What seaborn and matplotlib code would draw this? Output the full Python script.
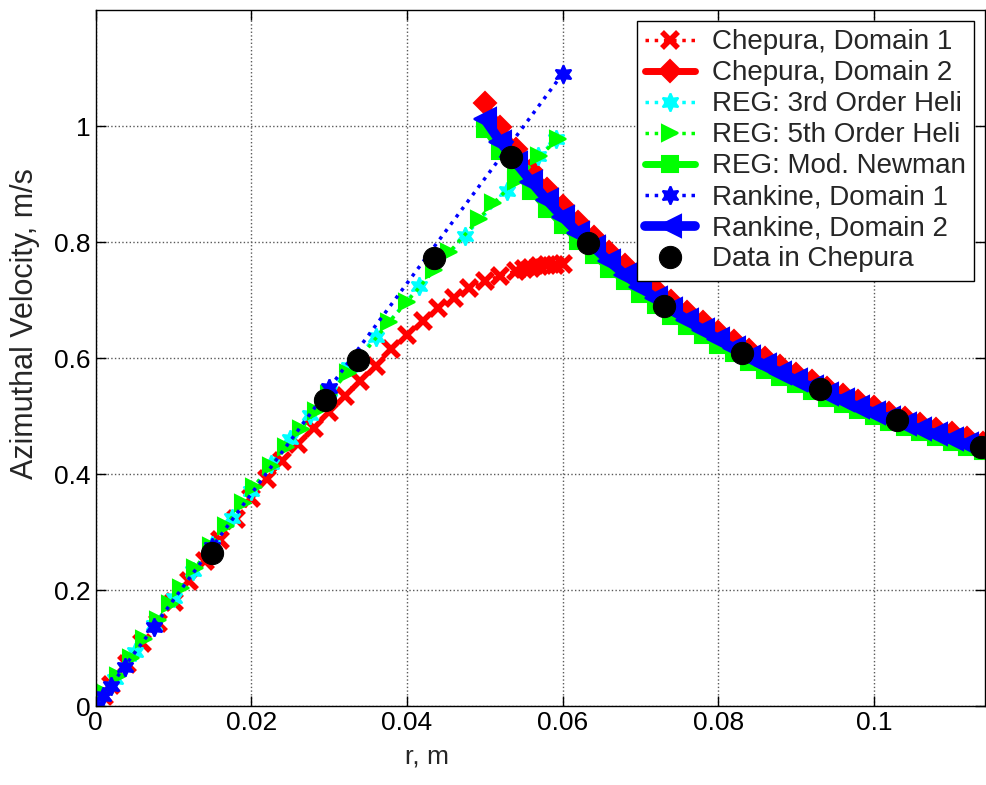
import matplotlib
matplotlib.use("Agg")
import matplotlib.pyplot as plt
import seaborn as sns

# Chepura, Domain 1 (inner region)
r_chep1 = [0, 0.001, 0.002, 0.004, 0.006, 0.008, 0.010, 0.012, 0.014, 0.016, 0.018,
           0.020, 0.022, 0.024, 0.026, 0.028, 0.030, 0.032, 0.034, 0.036, 0.038, 0.040,
           0.042, 0.044, 0.046, 0.048, 0.050, 0.052, 0.054, 0.055, 0.056, 0.057, 0.058,
           0.059, 0.060]
v_chep1 = [0, 0.018, 0.036, 0.072, 0.108, 0.144, 0.179, 0.215, 0.250, 0.286, 0.322,
           0.358, 0.391, 0.422, 0.452, 0.480, 0.507, 0.534, 0.560, 0.587, 0.615, 0.640,
           0.664, 0.686, 0.704, 0.720, 0.732, 0.742, 0.750, 0.753, 0.756, 0.758, 0.760,
           0.761, 0.762]

# outer region, shared radii
r_out = [0.050, 0.052, 0.054, 0.056, 0.058, 0.060, 0.062, 0.064, 0.066, 0.068, 0.070,
         0.072, 0.074, 0.076, 0.078, 0.080, 0.082, 0.084, 0.086, 0.088, 0.090, 0.092,
         0.094, 0.096, 0.098, 0.100, 0.102, 0.104, 0.106, 0.108, 0.110, 0.112, 0.114]
v_chep2 = [1.040, 0.998, 0.960, 0.925, 0.892, 0.862, 0.834, 0.808, 0.783, 0.760, 0.738,
           0.717, 0.698, 0.679, 0.662, 0.645, 0.629, 0.614, 0.600, 0.586, 0.573, 0.561,
           0.549, 0.537, 0.526, 0.516, 0.506, 0.496, 0.487, 0.478, 0.470, 0.462, 0.454]
v_newman = [0.995, 0.957, 0.921, 0.888, 0.857, 0.829, 0.802, 0.777, 0.754, 0.732, 0.711,
            0.692, 0.673, 0.656, 0.639, 0.623, 0.608, 0.594, 0.580, 0.567, 0.555, 0.543,
            0.531, 0.520, 0.510, 0.500, 0.490, 0.481, 0.472, 0.463, 0.455, 0.447, 0.439]
v_rank2 = [1.012, 0.973, 0.937, 0.904, 0.872, 0.843, 0.816, 0.791, 0.767, 0.744, 0.723,
           0.703, 0.684, 0.666, 0.649, 0.633, 0.617, 0.602, 0.588, 0.575, 0.562, 0.550,
           0.538, 0.527, 0.516, 0.506, 0.496, 0.487, 0.477, 0.469, 0.460, 0.452, 0.444]

# REG: 3rd order helical
r_heli3 = [0, 0.0025, 0.005, 0.0075, 0.010, 0.0125, 0.015, 0.0175, 0.020, 0.0225, 0.025,
           0.0275, 0.030, 0.0325, 0.036, 0.0416, 0.0474, 0.0528, 0.0569, 0.0592]
v_heli3 = [0, 0.046, 0.093, 0.139, 0.186, 0.232, 0.278, 0.325, 0.371, 0.417, 0.460,
           0.502, 0.543, 0.585, 0.636, 0.724, 0.810, 0.888, 0.948, 0.977]

# REG: 5th order helical
r_heli5 = [0, 0.0012, 0.0028, 0.0045, 0.0062, 0.0080, 0.0095, 0.0110, 0.0128, 0.0148,
           0.0167, 0.0189, 0.0203, 0.0225, 0.0245, 0.0264, 0.0283, 0.0300, 0.0324, 0.0377,
           0.0400, 0.0435, 0.0454, 0.0492, 0.0511, 0.0540, 0.0570, 0.0594]
v_heli5 = [0, 0.022, 0.052, 0.083, 0.115, 0.148, 0.176, 0.204, 0.238, 0.276,
           0.311, 0.350, 0.378, 0.414, 0.447, 0.478, 0.509, 0.538, 0.575, 0.662,
           0.697, 0.752, 0.782, 0.839, 0.867, 0.905, 0.948, 0.977]

# Rankine, Domain 1
r_rank1 = [0, 0.0009, 0.0019, 0.0037, 0.0075, 0.015, 0.030, 0.060]
v_rank1 = [0, 0.017, 0.034, 0.068, 0.137, 0.275, 0.548, 1.090]

# measured data
r_data = [0.0149, 0.0295, 0.0337, 0.0435, 0.0534, 0.0633, 0.0731, 0.0830, 0.0931, 0.1030, 0.1138]
v_data = [0.264, 0.528, 0.597, 0.773, 0.947, 0.799, 0.690, 0.608, 0.546, 0.494, 0.447]

sns.set_style("ticks")
plt.rcParams['font.family'] = ['Liberation Sans', 'DejaVu Sans']

fig = plt.figure(figsize=(9.87, 7.85), dpi=100)
ax = fig.add_axes([0.097, 0.1006, 0.901, 0.8866])

common = dict(estimator=None, sort=False, ax=ax)
sns.lineplot(x=r_chep1, y=v_chep1, color='red', linestyle=':', lw=2.5, marker='x',
             ms=12, mew=4, mec='red', label='Chepura, Domain 1', **common)
sns.lineplot(x=r_out, y=v_chep2, color='red', linestyle='-', lw=5, marker='D',
             ms=11, mew=1.5, mfc='red', mec='red', label='Chepura, Domain 2', **common)
sns.lineplot(x=r_heli3, y=v_heli3, color='cyan', linestyle=':', lw=2.5, marker=(6, 1, 0),
             ms=13, mew=1.5, mfc='cyan', mec='cyan', label='REG: 3rd Order Heli', **common)
sns.lineplot(x=r_heli5, y=v_heli5, color='lime', linestyle=':', lw=2.5, marker='>',
             ms=12, mew=1.5, mfc='lime', mec='lime', label='REG: 5th Order Heli', **common)
sns.lineplot(x=r_out, y=v_newman, color='lime', linestyle='-', lw=5, marker='s',
             ms=11, mew=1.5, mfc='lime', mec='lime', label='REG: Mod. Newman', **common)
sns.lineplot(x=r_rank1, y=v_rank1, color='blue', linestyle=':', lw=2.5, marker=(6, 1, 0),
             ms=13, mew=1.5, mfc='blue', mec='blue', label='Rankine, Domain 1', **common)
sns.lineplot(x=r_out, y=v_rank2, color='blue', linestyle='-', lw=7, marker='<',
             ms=16, mew=1.5, mfc='blue', mec='blue', label='Rankine, Domain 2', **common)
sns.lineplot(x=r_data, y=v_data, color='black', linestyle='none', marker='o',
             ms=16, mfc='black', mec='black', label='Data in Chepura', **common)

ax.set_xlim(0, 0.1143)
ax.set_ylim(0, 1.2)
ax.set_xticks([0, 0.02, 0.04, 0.06, 0.08, 0.1])
ax.set_xticklabels(['0', '0.02', '0.04', '0.06', '0.08', '0.1'])
ax.set_yticks([0, 0.2, 0.4, 0.6, 0.8, 1.0])
ax.set_yticklabels(['0', '0.2', '0.4', '0.6', '0.8', '1'])
ax.grid(True, linestyle=':', color='0.35', lw=1)
ax.tick_params(direction='in', length=7, width=1, labelsize=19, top=True, right=True,
               colors='black')
for s in ax.spines.values():
    s.set_color('black')
    s.set_linewidth(1)

ax.set_xlabel('r, m', fontsize=19)
ax.set_ylabel('Azimuthal Velocity, m/s', fontsize=22)
ax.xaxis.set_label_coords(0.373, -0.055)
ax.yaxis.set_label_coords(-0.063, 0.55)

leg = ax.legend(loc='upper right', fontsize=20, frameon=True, fancybox=False,
                edgecolor='black', framealpha=1, labelspacing=0.18, handlelength=1.8,
                handletextpad=0.6, borderaxespad=0.4, borderpad=0.3)
leg.get_frame().set_linewidth(1)

fig.savefig('out.png', dpi=100)
